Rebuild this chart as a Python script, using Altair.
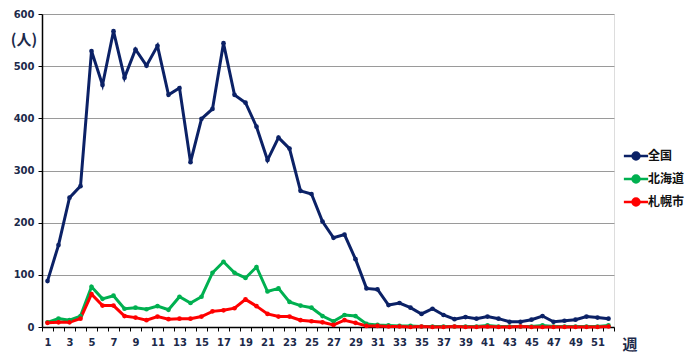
import altair as alt
import pandas as pd

weeks = list(range(1, 53))
series_names = ["全国", "北海道", "札幌市"]
series_colors = ["#0b2166", "#00b050", "#ff0000"]

zenkoku = [88, 157, 248, 270, 529, 464, 567, 478, 532, 501, 539, 445, 458, 316, 399, 418,
           544, 445, 430, 384, 320, 363, 342, 261, 255, 202, 171, 177, 130, 74, 72, 42,
           46, 37, 25, 35, 23, 15, 19, 16, 20, 16, 10, 10, 14, 21, 10, 12, 14, 20, 18, 16]
hokkaido = [9, 16, 13, 21, 77, 54, 60, 35, 37, 34, 40, 33, 58, 46, 58, 104,
            125, 104, 94, 115, 68, 74, 48, 41, 37, 21, 11, 23, 21, 6, 4, 3,
            2, 2, 1, 1, 1, 1, 1, 1, 3, 1, 1, 1, 1, 3, 1, 1, 1, 1, 1, 3]
sapporo = [8, 9, 9, 16, 63, 41, 41, 21, 18, 13, 20, 15, 16, 16, 20, 30,
           32, 36, 53, 40, 25, 20, 20, 13, 11, 9, 4, 13, 8, 2, 2, 1,
           1, 0, 1, 0, 0, 1, 0, 0, 1, 0, 0, 1, 0, 0, 0, 0, 0, 0, 0, 1]
y_ticks = [0, 100, 200, 300, 400, 500, 600]

rows = []
for name, vals in zip(series_names, [zenkoku, hokkaido, sapporo]):
    for w, v in zip(weeks, vals):
        rows.append({"週": w, "人数": v, "地域": name})
df = pd.DataFrame(rows)

label_color = "#1c2a4a"
num_font = "DejaVu Sans"
jp_font = "Noto Sans CJK JP"

legend_symbol = "M-1.4,0L1.4,0M-0.4,0A0.4,0.4,0,1,1,0.4,0A0.4,0.4,0,1,1,-0.4,0Z"

lines = alt.Chart(df).mark_line(
    strokeWidth=3,
    point=alt.OverlayMarkDef(filled=True, size=22),
).encode(
    x=alt.X("週:O",
            scale=alt.Scale(type="band", paddingInner=0, paddingOuter=0),
            axis=alt.Axis(title=None, labelAngle=0,
                          labelExpr="datum.value % 2 == 1 ? datum.label : ''",
                          tickBand="extent", tickSize=4, tickColor="black",
                          domainColor="black", domainWidth=1.5,
                          labelFont=num_font, labelFontSize=10, labelFontWeight="bold",
                          labelColor=label_color, labelPadding=6, grid=False)),
    y=alt.Y("人数:Q",
            scale=alt.Scale(domain=[0, 600], nice=False),
            axis=alt.Axis(title=None, values=y_ticks, tickSize=4, tickColor="black",
                          domainColor="black", domainWidth=1.5,
                          grid=True, gridColor="#9a9a9a", gridWidth=1,
                          labelFont=num_font, labelFontSize=10, labelFontWeight="bold",
                          labelColor=label_color, labelPadding=4)),
    color=alt.Color("地域:N",
                    scale=alt.Scale(domain=series_names, range=series_colors),
                    sort=series_names,
                    legend=alt.Legend(title=None, orient="none", legendX=584, legendY=132,
                                      symbolType=legend_symbol, symbolSize=300,
                                      symbolStrokeWidth=2.5, labelOffset=2,
                                      rowPadding=4,
                                      labelFont=jp_font, labelFontSize=12,
                                      labelFontWeight="bold", labelColor="#111111")),
)

unit_label = alt.Chart(pd.DataFrame({"t": ["(人)"]})).mark_text(
    font=jp_font, fontSize=15, fontWeight="bold", color=label_color, align="center", baseline="middle"
).encode(x=alt.value(-18), y=alt.value(26), text="t:N")

week_label = alt.Chart(pd.DataFrame({"t": ["週"]})).mark_text(
    font=jp_font, fontSize=15, fontWeight="bold", color=label_color, align="center", baseline="middle"
).encode(x=alt.value(588), y=alt.value(331), text="t:N")

chart = alt.layer(lines, unit_label, week_label).properties(
    width=572, height=313,
    autosize=alt.AutoSizeParams(type="none"),
    padding={"left": 34, "top": 6, "right": 78, "bottom": 30},
).configure_view(
    stroke="black", strokeWidth=1.5
).configure(background="white")

chart.save("out.html", embed_options={"renderer": "svg", "actions": False})
